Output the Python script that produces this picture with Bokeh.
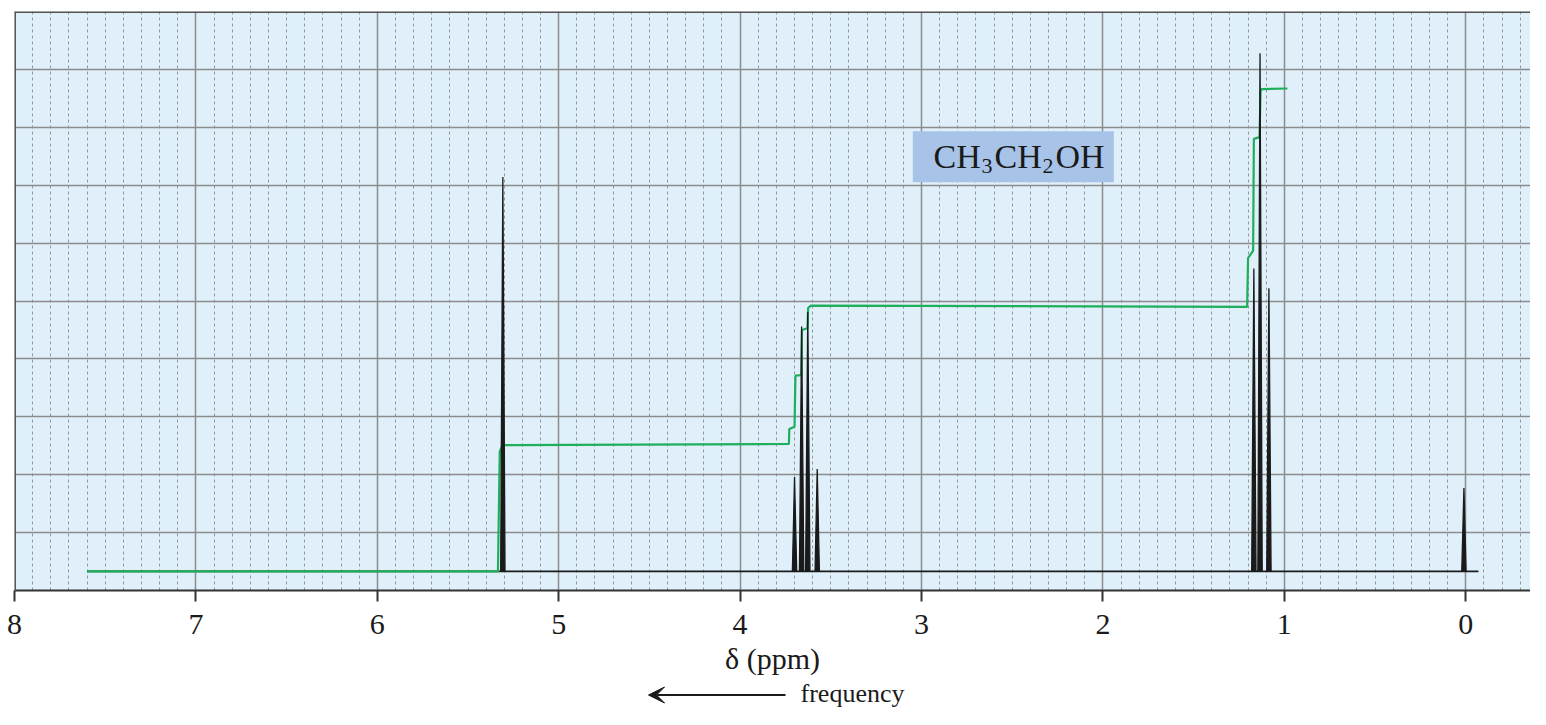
from bokeh.plotting import figure
from bokeh.models import Range1d, FixedTicker, Grid, Span, Arrow, VeeHead, ColumnDataSource
from bokeh.layouts import column
from bokeh.embed import file_html
from bokeh.resources import INLINE
from bokeh.core.properties import value

# ---------------- data ----------------
peak_ppm = [5.308, 3.700, 3.661, 3.627, 3.575, 1.168, 1.134, 1.085, 0.010]
peak_height = [7.14, 1.96, 4.56, 4.81, 2.10, 5.56, 9.28, 5.22, 1.77]
baseline_ppm = [7.60, -0.07]
baseline_level = 0.33

integral_ppm = [7.60, 5.335, 5.325, 5.31, 3.731, 3.729, 3.700, 3.695, 3.663, 3.659,
                3.629, 3.625, 3.610, 1.205, 1.200, 1.172, 1.168, 1.137, 1.131, 1.125, 0.983]
integral_level = [0.33, 0.33, 2.40, 2.51, 2.53, 2.79, 2.83, 3.71, 3.72, 4.50,
                  4.53, 4.88, 4.92, 4.90, 5.74, 5.87, 7.80, 7.83, 8.62, 8.66, 8.67]

tick_values = [0, 1, 2, 3, 4, 5, 6, 7, 8]
tick_labels = ["0", "1", "2", "3", "4", "5", "6", "7", "8"]
compound_parts = ["CH", "3", "CH", "2", "OH"]

# ---------------- styling ----------------
FONT = "Liberation Serif"
BG = "#dff0fa"
GRID = "#8c8c8c"
MINOR = "#969696"
INK = "#1a1a1a"
GREEN = "#1fae5b"

W = 1530
H1 = 680
H2 = 709 - H1
p = figure(width=W, height=H1, x_range=Range1d(8, -0.357), y_range=Range1d(0, 10),
           output_backend="svg", toolbar_location=None, y_axis_location=None,
           min_border_left=14, min_border_right=0, min_border_top=11, min_border_bottom=H1 - 590)
p.background_fill_color = BG
p.border_fill_color = "white"
p.outline_line_color = None
for g in p.grid:
    g.visible = False

minor = [round(i / 10, 1) for i in range(-4, 81) if i % 10 != 0]
xg = Grid(dimension=0, ticker=FixedTicker(ticks=tick_values, minor_ticks=minor),
          grid_line_color=GRID, grid_line_width=1.5,
          minor_grid_line_color=MINOR, minor_grid_line_width=1, minor_grid_line_dash="3 3")
yg = Grid(dimension=1, ticker=FixedTicker(ticks=list(range(1, 10))),
          grid_line_color=GRID, grid_line_width=1.5)
p.add_layout(xg)
p.add_layout(yg)

ax = p.xaxis[0]
ax.ticker = FixedTicker(ticks=tick_values)
ax.major_label_overrides = {v: l for v, l in zip(tick_values, tick_labels)}
ax.major_label_text_font = FONT
ax.major_label_text_font_size = "30px"
ax.major_label_text_color = INK
ax.major_label_standoff = 13
ax.axis_line_color = "#333333"
ax.axis_line_width = 2
ax.major_tick_line_color = "#333333"
ax.major_tick_line_width = 2
ax.major_tick_out = 11
ax.major_tick_in = 0
ax.minor_tick_out = 0
ax.minor_tick_in = 0
ax.axis_label = "δ (ppm)"
ax.axis_label_text_font = FONT
ax.axis_label_text_font_size = "30px"
ax.axis_label_text_font_style = "normal"
ax.axis_label_text_color = INK
ax.axis_label_standoff = 5

p.add_layout(Span(location=10, dimension="width", line_color="#555555", line_width=3))
p.add_layout(Span(location=8, dimension="height", line_color="#555555", line_width=3))

# label box with formula
p.quad(left=[3.048], right=[1.940], bottom=[7.05], top=[7.93], fill_color="#a8c3e8", line_color=None)
lab = ColumnDataSource(dict(
    x=[2.934] * 5, y=[7.50] * 5, text=compound_parts,
    xo=[0, 48, 61, 109, 122], yo=[0, 10, 0, 10, 0],
    fs=["34px", "22px", "34px", "22px", "34px"]))
p.text(x="x", y="y", text="text", x_offset="xo", y_offset="yo", text_font_size="fs",
       source=lab, text_font=value(FONT), text_color=INK, text_align="left",
       text_baseline="alphabetic")

# spectrum baseline
p.line(baseline_ppm, [baseline_level, baseline_level], line_color=INK, line_width=1.6)

# integral trace
p.line(integral_ppm, integral_level, line_color=GREEN, line_width=2.2)

# peaks
w = 0.012
xs = [[x + w, x, x - w] for x in peak_ppm]
ys = [[baseline_level, h, baseline_level] for h in peak_height]
p.patches(xs, ys, fill_color=INK, line_color=INK, line_width=1.3)

# ---------------- frequency arrow strip ----------------
p2 = figure(width=W, height=H2, x_range=p.x_range, y_range=Range1d(0, H2),
            output_backend="svg", toolbar_location=None, x_axis_location=None,
            y_axis_location=None, min_border_left=14, min_border_right=0,
            min_border_top=0, min_border_bottom=0)
p2.outline_line_color = None
p2.background_fill_color = "white"
p2.border_fill_color = "white"
for g in p2.grid:
    g.visible = False
p2.add_layout(Arrow(x_start=3.75, y_start=14.5, x_end=4.505, y_end=14.5,
                    line_color=INK, line_width=2,
                    end=VeeHead(size=16, fill_color=INK, line_color=INK)))
p2.text(x=[3.667], y=[16.5], text=["frequency"], text_font=value(FONT),
        text_font_size="26px", text_color=INK, text_align="left", text_baseline="alphabetic")

layout = column(p, p2, spacing=0)
open("out.html", "w").write(file_html(layout, INLINE))
